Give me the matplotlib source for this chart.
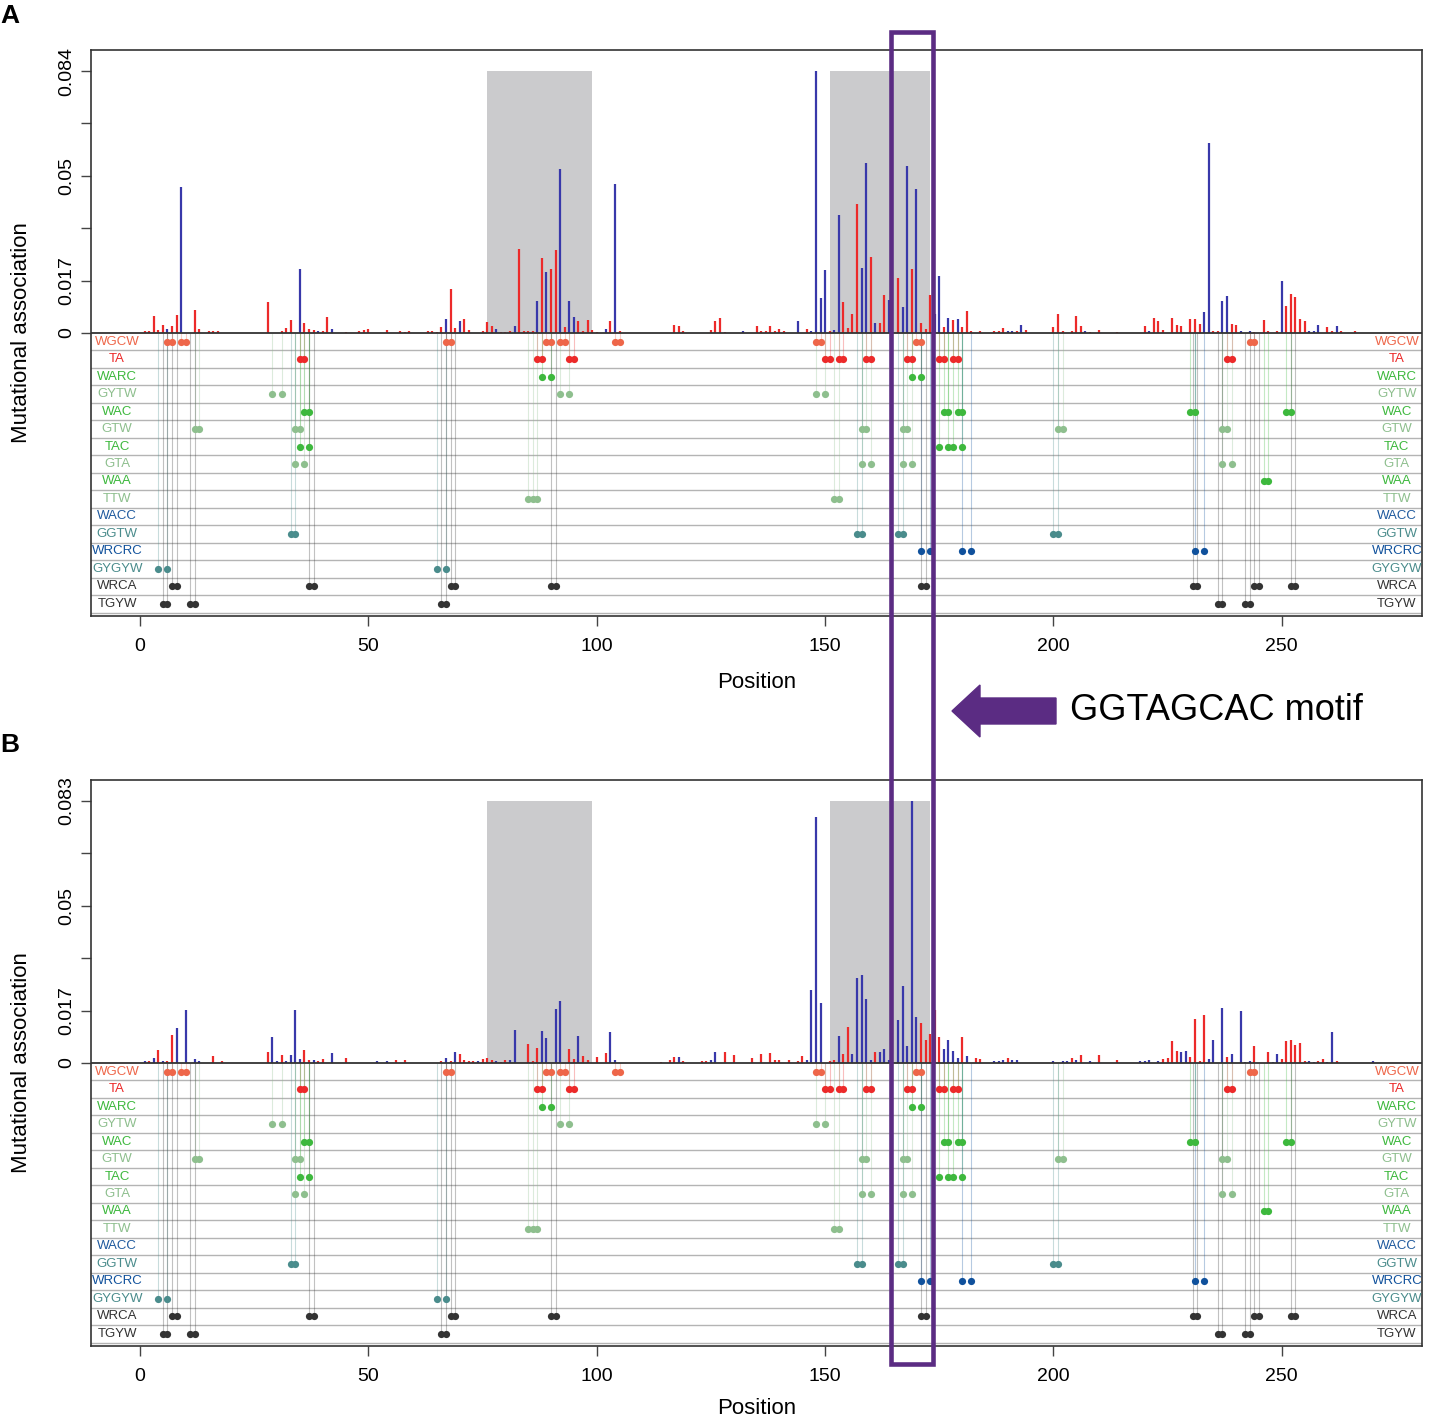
import numpy as np
import matplotlib
matplotlib.use("Agg")
import matplotlib.pyplot as plt
from matplotlib.patches import Rectangle, Polygon
from matplotlib.transforms import blended_transform_factory

plt.rcParams['font.family'] = ['Liberation Sans', 'DejaVu Sans']

# ---- bar data (position, association) ----
a_red_pos = [1, 2, 3, 4, 5, 7, 8, 12, 13, 15, 16, 17, 28, 31, 32, 33, 36, 37, 38, 40, 41, 45, 48, 49, 50, 54,
             57, 58, 59, 63, 64, 65, 66, 68, 69, 71, 72, 75, 76, 77, 79, 80, 81, 83, 84, 85, 86, 88, 90, 91, 93,
             96, 97, 98, 99, 100, 103, 105, 117, 118, 119, 125, 126, 127, 128, 135, 136, 137, 138, 139, 140, 141,
             146, 151, 154, 155, 156, 157, 160, 162, 163, 166, 169, 171, 172, 173, 176, 178, 180, 181, 182, 184,
             187, 188, 189, 192, 194, 200, 201, 202, 204, 205, 206, 208, 210, 214, 220, 222, 223, 224, 226, 227,
             228, 230, 231, 232, 235, 236, 239, 240, 244, 246, 247, 249, 251, 252, 253, 254, 255, 260, 261, 263, 266]
a_red_val = [0.0006, 0.0008, 0.0053, 0.001, 0.0026, 0.0021, 0.0057, 0.0073, 0.0013, 0.0008, 0.0005, 0.0008,
             0.0099, 0.0007, 0.0016, 0.0043, 0.0031, 0.0013, 0.0009, 0.0008, 0.005, 0.0004, 0.0007, 0.0009, 0.0014,
             0.0009, 0.0007, 0.0004, 0.0008, 0.0006, 0.0005, 0.0004, 0.0019, 0.0142, 0.0015, 0.0044, 0.001, 0.0007,
             0.0035, 0.0021, 0.0004, 0.0003, 0.0008, 0.027, 0.0008, 0.0006, 0.0005, 0.0241, 0.0204, 0.0265, 0.0019,
             0.0038, 0.0005, 0.0041, 0.001, 0.0004, 0.0037, 0.0005, 0.0025, 0.0022, 0.0006, 0.001, 0.0037, 0.0048,
             0.0003, 0.0021, 0.0005, 0.0005, 0.0021, 0.0006, 0.0012, 0.0007, 0.0013, 0.0006, 0.0099, 0.0015, 0.006,
             0.0413, 0.0244, 0.0033, 0.0121, 0.0175, 0.0204, 0.0032, 0.0013, 0.0123, 0.0019, 0.0041, 0.0019, 0.0071,
             0.0008, 0.0007, 0.0006, 0.0008, 0.0016, 0.0006, 0.001, 0.0019, 0.0062, 0.0008, 0.0008, 0.0053, 0.0021,
             0.0004, 0.0009, 0.0004, 0.0021, 0.0048, 0.0038, 0.0011, 0.0049, 0.0025, 0.0021, 0.0046, 0.0044, 0.0029,
             0.0005, 0.0006, 0.0028, 0.0025, 0.0004, 0.0043, 0.0005, 0.0007, 0.0086, 0.0125, 0.0115, 0.0044, 0.0037,
             0.0019, 0.0006, 0.0005, 0.0008]
a_blue_pos = [6, 9, 35, 39, 42, 67, 70, 78, 82, 87, 89, 92, 94, 95, 102, 104, 132, 144, 147, 148, 149, 150, 152,
              153, 158, 159, 161, 164, 167, 168, 170, 174, 175, 177, 179, 190, 191, 193, 207, 221, 233, 234, 237,
              238, 241, 243, 250, 256, 257, 258, 262]
a_blue_val = [0.0013, 0.0468, 0.0206, 0.0007, 0.0012, 0.0046, 0.004, 0.0012, 0.0021, 0.0102, 0.0195, 0.0526,
              0.0104, 0.0051, 0.0014, 0.0477, 0.0007, 0.0037, 0.0008, 0.084, 0.0112, 0.0203, 0.0009, 0.0379, 0.0208,
              0.0545, 0.0033, 0.0105, 0.0084, 0.0535, 0.0463, 0.0062, 0.0182, 0.0048, 0.0045, 0.0006, 0.0008, 0.0027,
              0.0006, 0.0007, 0.0066, 0.061, 0.0103, 0.0118, 0.0007, 0.0006, 0.0166, 0.0005, 0.0005, 0.0025, 0.0022]

b_red_pos = [2, 4, 6, 7, 16, 18, 28, 31, 36, 37, 39, 40, 45, 56, 58, 66, 68, 70, 71, 72, 73, 75, 76, 77, 79, 80,
             85, 86, 87, 94, 95, 97, 98, 100, 102, 114, 116, 117, 119, 123, 124, 128, 130, 134, 136, 138, 139, 140,
             142, 144, 145, 151, 152, 154, 155, 161, 171, 172, 173, 174, 175, 180, 183, 184, 190, 204, 206, 210,
             214, 224, 225, 226, 227, 230, 231, 232, 233, 238, 244, 247, 250, 251, 252, 253, 254, 255, 258, 259, 262]
b_red_val = [0.0006, 0.0042, 0.0006, 0.009, 0.0021, 0.0006, 0.0035, 0.0026, 0.0042, 0.0008, 0.0005, 0.0013,
             0.0015, 0.0009, 0.0011, 0.0006, 0.0005, 0.003, 0.0008, 0.0006, 0.0006, 0.0012, 0.0015, 0.0011, 0.0004,
             0.001, 0.0061, 0.0006, 0.0049, 0.0045, 0.0012, 0.0023, 0.0008, 0.0019, 0.0032, 0.0004, 0.0008, 0.0019,
             0.0006, 0.0006, 0.0005, 0.0034, 0.0026, 0.0016, 0.003, 0.0033, 0.0009, 0.0009, 0.0009, 0.0007, 0.0021,
             0.0006, 0.0009, 0.003, 0.0114, 0.0035, 0.0127, 0.0074, 0.0093, 0.0169, 0.0082, 0.0082, 0.0017, 0.0012,
             0.0016, 0.0016, 0.0026, 0.0026, 0.0009, 0.0013, 0.0017, 0.0069, 0.0037, 0.0018, 0.014, 0.0005, 0.0153,
             0.0018, 0.0053, 0.0036, 0.0013, 0.007, 0.0072, 0.0056, 0.0063, 0.0006, 0.0007, 0.0013, 0.0005]
b_blue_pos = [1, 3, 5, 8, 10, 12, 13, 29, 30, 32, 33, 34, 35, 38, 42, 52, 54, 67, 69, 74, 78, 81, 82, 88, 89, 91,
              92, 96, 103, 104, 118, 125, 126, 146, 147, 148, 149, 153, 156, 157, 158, 159, 160, 162, 163, 164, 166,
              167, 168, 169, 170, 176, 177, 178, 179, 181, 187, 188, 189, 191, 192, 200, 202, 203, 205, 208, 219,
              220, 221, 223, 228, 229, 234, 235, 237, 239, 241, 242, 243, 248, 249, 256, 257, 260, 261, 270]
b_blue_val = [0.0005, 0.0015, 0.0006, 0.011, 0.0169, 0.0014, 0.0006, 0.0083, 0.0007, 0.0007, 0.0024, 0.0167,
              0.0014, 0.0011, 0.0031, 0.0005, 0.0005, 0.0015, 0.0036, 0.0005, 0.0005, 0.001, 0.0106, 0.0101, 0.0079,
              0.0172, 0.0195, 0.0084, 0.0097, 0.0008, 0.0019, 0.0008, 0.0034, 0.0008, 0.023, 0.078, 0.019, 0.0084,
              0.0027, 0.027, 0.028, 0.0202, 0.0008, 0.0035, 0.0044, 0.0008, 0.0135, 0.0243, 0.0053, 0.083, 0.0146,
              0.0043, 0.0074, 0.0037, 0.0015, 0.0021, 0.0007, 0.0007, 0.0009, 0.0008, 0.0011, 0.0005, 0.0006, 0.0006,
              0.0008, 0.0006, 0.0006, 0.0007, 0.0008, 0.0006, 0.0035, 0.0039, 0.0012, 0.0074, 0.0173, 0.0027, 0.0165,
              0.0004, 0.0006, 0.0004, 0.003, 0.0006, 0.0004, 0.0004, 0.0098, 0.0006]

# ---- motif hotspots ----
motif_names = ['WGCW', 'TA', 'WARC', 'GYTW', 'WAC', 'GTW', 'TAC', 'GTA',
               'WAA', 'TTW', 'WACC', 'GGTW', 'WRCRC', 'GYGYW', 'WRCA', 'TGYW']
motif_colors = ['#EE6649', '#EC2A2A', '#3DB83D', '#8EBF8E', '#3DB83D', '#8EBF8E', '#3DB83D', '#8EBF8E',
                '#3DB83D', '#8EBF8E', '#1F5A9E', '#4A8C8C', '#10519C', '#4A8C8C', '#333333', '#333333']
motif_pos = [
    [6, 7, 9, 10, 67, 68, 89, 90, 92, 93, 104, 105, 148, 149, 170, 171, 243, 244],
    [35, 36, 87, 88, 94, 95, 150, 151, 153, 154, 159, 160, 168, 169, 175, 176, 178, 179, 238, 239],
    [88, 90, 169, 171],
    [29, 31, 92, 94, 148, 150],
    [36, 37, 176, 177, 179, 180, 230, 231, 251, 252],
    [12, 13, 34, 35, 158, 159, 167, 168, 201, 202, 237, 238],
    [35, 37, 175, 177, 178, 180],
    [34, 36, 158, 160, 167, 169, 237, 239],
    [246, 247],
    [85, 86, 87, 152, 153],
    [],
    [33, 34, 157, 158, 166, 167, 200, 201],
    [171, 173, 180, 182, 231, 233],
    [4, 6, 65, 67],
    [7, 8, 37, 38, 68, 69, 90, 91, 171, 172, 230.5, 231.5, 244, 245, 252, 253],
    [5, 6, 11, 12, 66, 67, 236, 237, 242, 243],
]

shaded = [(76, 99), (151, 173)]
motif_box = (164.4, 173.6)
x_ticks = [0, 50, 100, 150, 200, 250]

W, H = 1430, 1422
fig = plt.figure(figsize=(W / 100, H / 100), dpi=100)


def panel(top_px, bottom_px, xlab_px, red_pos, red_val, blue_pos, blue_val, ymax, ylabels):
    ax = fig.add_axes([91 / W, 1 - bottom_px / H, (1422 - 91) / W, (bottom_px - top_px) / H])
    h = ymax * 17.47 / 262
    ax.set_xlim(-10.73, 280.7)
    ax.set_ylim(-ymax * 283 / 262, ymax * 283 / 262)

    for x0, x1 in shaded:
        ax.add_patch(Rectangle((x0, 0), x1 - x0, ymax, color='#CBCBCD', lw=0, zorder=1))

    ax.vlines(red_pos, 0, red_val, colors='#EC2A2A', lw=1.6, zorder=3)
    ax.vlines(blue_pos, 0, blue_val, colors='#3838AA', lw=1.6, zorder=3)
    ax.axhline(0, color='#333333', lw=1.3, zorder=4)

    for i, (name, col, xs) in enumerate(zip(motif_names, motif_colors, motif_pos)):
        yc = -(i + 0.5) * h
        ax.axhline(-(i + 1) * h, color='#B4B4B4', lw=1.0, zorder=1)
        if xs:
            ax.vlines(xs, yc, 0, colors=col, lw=0.8, alpha=0.3, zorder=2)
            ax.plot(xs, [yc] * len(xs), 'o', ms=5.2, color=col, mec='none', zorder=5)
        ax.text(-5, yc, name, color=col, fontsize=9.5, ha='center', va='center')
        ax.text(275.2, yc, name, color=col, fontsize=9.5, ha='center', va='center')

    ax.set_yticks(np.linspace(0, ymax, 6))
    ax.set_yticklabels(ylabels, rotation=90, va='center', fontsize=14)
    ax.set_xticks(x_ticks)
    ax.set_xticklabels([str(t) for t in x_ticks], fontsize=14)
    ax.tick_params(axis='y', length=7, width=1, color='#444444', pad=4)
    ax.tick_params(axis='x', length=7, width=1, color='#444444', pad=9)
    for s in ax.spines.values():
        s.set_color('#333333')
        s.set_linewidth(1.2)

    fig.text(22 / W, 1 - (top_px + 283) / H, 'Mutational association', rotation=90,
             ha='center', va='center', fontsize=16)
    fig.text(757 / W, 1 - xlab_px / H, 'Position', ha='center', va='center', fontsize=16)
    return ax


axA = panel(50, 616, 683, a_red_pos, a_red_val, a_blue_pos, a_blue_val, 0.084,
            ['0', '0.017', '', '0.05', '', '0.084'])
axB = panel(780, 1346, 1408, b_red_pos, b_red_val, b_blue_pos, b_blue_val, 0.083,
            ['0', '0.017', '', '0.05', '', '0.083'])

fig.text(10 / W, 1 - 16 / H, 'A', fontsize=19, fontweight='bold', ha='center', va='center')
fig.text(10 / W, 1 - 745 / H, 'B', fontsize=19, fontweight='bold', ha='center', va='center')

# purple frame across both panels
tr = blended_transform_factory(axA.transData, fig.transFigure)
fig.add_artist(Rectangle((motif_box[0], 1 - 1364 / H), motif_box[1] - motif_box[0], (1364 - 32) / H,
                         fill=False, edgecolor='#5B2C83', lw=3.3, transform=tr, clip_on=False, zorder=10))

arrow_px = [(952, 711), (980, 685), (980, 698), (1056, 698), (1056, 724), (980, 724), (980, 737)]
fig.add_artist(Polygon([(x / W, 1 - y / H) for x, y in arrow_px], closed=True, color='#5B2C83',
                       transform=fig.transFigure))
fig.text(1070 / W, 1 - 710 / H, 'GGTAGCAC motif', fontsize=26, ha='left', va='center')

fig.savefig('out.png', dpi=100)
